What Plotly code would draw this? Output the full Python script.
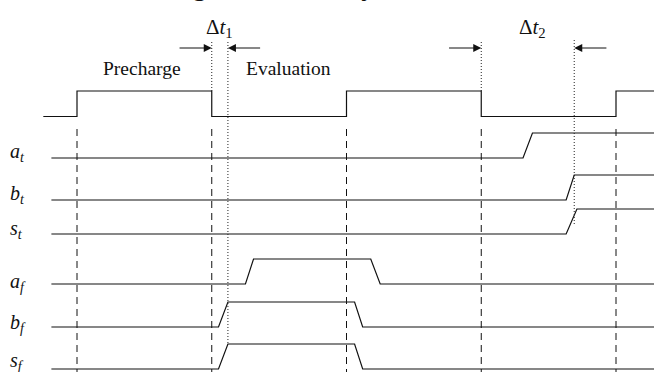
import plotly.graph_objects as go

# ---- data (time in arbitrary units, logic levels 0/1) ----
clock_t = [7.5, 10, 10, 20, 20, 30, 30, 40, 40, 50, 50, 53]
clock_v = [0, 0, 1, 1, 0, 0, 1, 1, 0, 0, 1, 1]

at_t = [8.1, 43.1, 43.8, 53]
at_v = [0, 0, 1, 1]
bt_t = [8.1, 46.3, 46.9, 53]
bt_v = [0, 0, 1, 1]
st_t = [8.1, 46.3, 47.1, 53]
st_v = [0, 0, 1, 1]
af_t = [8.1, 22.5, 23.1, 31.8, 32.5, 53]
af_v = [0, 0, 1, 1, 0, 0]
bf_t = [8.1, 20.5, 21.2, 30.6, 31.2, 53]
bf_v = [0, 0, 1, 1, 0, 0]
sf_t = [8.1, 20.5, 21.2, 30.6, 31.2, 53]
sf_v = [0, 0, 1, 1, 0, 0]

edge_times = [10, 20, 30, 40, 50]          # dashed clock-edge markers
delta1 = [20, 21.2]                          # Δt1 bounds
delta2 = [40, 46.9]                          # Δt2 bounds
labels = ["<i>a</i><sub><i>t</i></sub>", "<i>b</i><sub><i>t</i></sub>", "<i>s</i><sub><i>t</i></sub>",
          "<i>a</i><sub><i>f</i></sub>", "<i>b</i><sub><i>f</i></sub>", "<i>s</i><sub><i>f</i></sub>"]

# ---- layout constants (vertical positions in page-pixel units) ----
rows = [158, 200, 234, 284, 327, 369]
label_y = [152, 194, 229, 282, 323, 361]
clock_base, clock_amp, amp = 116.5, 25.5, 25
FONT = "Liberation Serif"
LINE = dict(color="#111", width=1.2)

fig = go.Figure()

def add_wave(ts, vs, base, a):
    fig.add_trace(go.Scatter(x=ts, y=[base - v * a for v in vs], mode="lines",
                             line=LINE, hoverinfo="skip", showlegend=False))

add_wave(clock_t, clock_v, clock_base, clock_amp)
for ts, vs, base in zip([at_t, bt_t, st_t, af_t, bf_t, sf_t],
                        [at_v, bt_v, st_v, af_v, bf_v, sf_v], rows):
    add_wave(ts, vs, base, amp)

# dashed clock-edge lines
for t in edge_times:
    fig.add_trace(go.Scatter(x=[t, t], y=[129, 372], mode="lines",
                             line=dict(color="#111", width=1, dash="7px,5px"),
                             hoverinfo="skip", showlegend=False))

# dotted delta lines
dotted = [(delta1[0], 42, 91), (delta1[1], 42, 344), (delta2[0], 42, 91), (delta2[1], 40, 224)]
for t, y0, y1 in dotted:
    fig.add_trace(go.Scatter(x=[t, t], y=[y0, y1], mode="lines",
                             line=dict(color="#222", width=1, dash="1px,2px"),
                             hoverinfo="skip", showlegend=False))

ann = []
arr_len = 2.5
for head, sgn in [(delta1[0], -1), (delta1[1], 1), (delta2[0], -1), (delta2[1], 1)]:
    ann.append(dict(x=head, y=48, ax=head + sgn * arr_len, ay=48, xref="x", yref="y",
                    axref="x", ayref="y", showarrow=True, arrowhead=2, arrowsize=1.6,
                    arrowwidth=1, arrowcolor="#111", text=""))

ann.append(dict(x=sum(delta1) / 2 - 0.05, y=28, text="Δ<i>t</i><sub>1</sub>", showarrow=False,
                font=dict(family=FONT, size=21, color="#111")))
ann.append(dict(x=43.77, y=28, text="Δ<i>t</i><sub>2</sub>", showarrow=False,
                font=dict(family=FONT, size=21, color="#111")))
ann.append(dict(x=14.8, y=68, text="Precharge", showarrow=False,
                font=dict(family=FONT, size=19.5, color="#111")))
ann.append(dict(x=25.7, y=68, text="Evaluation", showarrow=False,
                font=dict(family=FONT, size=19.5, color="#111")))
for lab, ly in zip(labels, label_y):
    ann.append(dict(x=4.9, y=ly, text=lab, showarrow=False, xanchor="left",
                    font=dict(family=FONT, size=20, color="#111")))

# cropped title fragment at the very top (only descenders visible)
ann.append(dict(x=13.4, y=3.5, text="Timing behavior in dynamic circuits", showarrow=False,
                xanchor="left", yanchor="bottom",
                font=dict(family=FONT, size=28, color="#111")))

fig.update_layout(
    width=654, height=372, margin=dict(l=0, r=0, t=0, b=0),
    paper_bgcolor="white", plot_bgcolor="white",
    xaxis=dict(range=[4.286, 52.82], visible=False, fixedrange=True),
    yaxis=dict(range=[372, 0], visible=False, fixedrange=True),
    annotations=ann,
)
fig.write_html("out.html")
